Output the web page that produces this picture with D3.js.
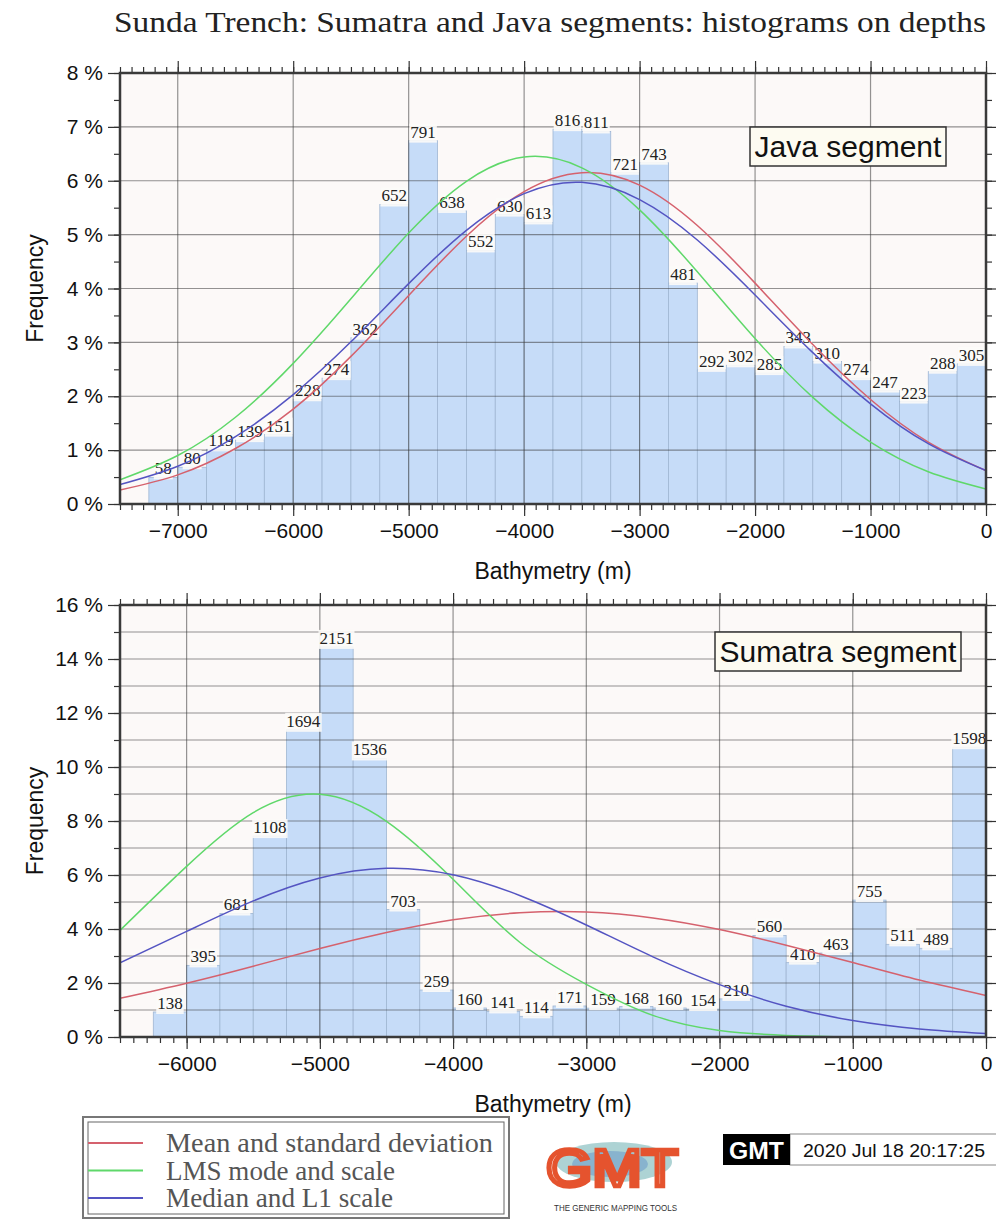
<!DOCTYPE html>
<html>
<head>
<meta charset="utf-8">
<script src="https://cdn.jsdelivr.net/npm/d3@7"></script>
<style>
body { margin: 0; background: #ffffff; }
svg { display: block; }
</style>
</head>
<body>
<div id="chart"></div>
<script>
// histogram bins: lower edge of each 250 m bin, and the counts printed on top of the bars
const binWidth = 250;
const javaBins = [-7250, -7000, -6750, -6500, -6250, -6000, -5750, -5500, -5250, -5000, -4750, -4500, -4250, -4000, -3750,
    -3500, -3250, -3000, -2750, -2500, -2250, -2000, -1750, -1500, -1250, -1000, -750, -500, -250];
const javaCounts = [58, 80, 119, 139, 151, 228, 274, 362, 652, 791, 638, 552, 630, 613, 816,
    811, 721, 743, 481, 292, 302, 285, 343, 310, 274, 247, 223, 288, 305];
const sumatraBins = [-6250, -6000, -5750, -5500, -5250, -5000, -4750, -4500, -4250, -4000, -3750, -3500, -3250,
    -3000, -2750, -2500, -2250, -2000, -1750, -1500, -1250, -1000, -750, -500, -250];
const sumatraCounts = [138, 395, 681, 1108, 1694, 2151, 1536, 703, 259, 160, 141, 114, 171,
    159, 168, 160, 154, 210, 560, 410, 463, 755, 511, 489, 1598];

// fitted curves (frequency in %)
const fitNames = ["Mean and standard deviation", "LMS mode and scale", "Median and L1 scale"];
const javaCurveDepths = [-7500, -7000, -6500, -6000, -5500, -5000, -4500, -4000, -3500, -3000, -2500, -2000, -1500, -1000, -500, 0];
const javaMean = [0.26, 0.54, 1.03, 1.76, 2.74, 3.87, 4.97, 5.80, 6.15, 5.92, 5.17, 4.10, 2.96, 1.94, 1.15, 0.62];
const javaLms = [0.45, 0.90, 1.61, 2.61, 3.81, 5.03, 5.99, 6.44, 6.24, 5.46, 4.31, 3.07, 1.98, 1.15, 0.60, 0.28];
const javaMedian = [0.36, 0.70, 1.25, 2.03, 3.01, 4.09, 5.08, 5.76, 5.97, 5.65, 4.90, 3.88, 2.81, 1.86, 1.12, 0.62];
const sumatraCurveDepths = [-6500, -6000, -5500, -5000, -4500, -4000, -3500, -3000, -2500, -2000, -1500, -1000, -500, 0];
const sumatraMean = [1.43, 1.99, 2.62, 3.28, 3.87, 4.34, 4.60, 4.63, 4.41, 3.98, 3.40, 2.76, 2.11, 1.54];
const sumatraLms = [3.95, 6.32, 8.31, 8.99, 7.99, 5.84, 3.51, 1.95, 0.80, 0.24, 0.06, 0.01, 0.00, 0.00];
const sumatraMedian = [2.75, 3.91, 5.04, 5.89, 6.25, 6.01, 5.24, 4.15, 2.97, 1.94, 1.14, 0.61, 0.30, 0.13];

const javaXTicks = [-7000, -6000, -5000, -4000, -3000, -2000, -1000, 0];
const sumatraXTicks = [-6000, -5000, -4000, -3000, -2000, -1000, 0];

const fitColors = ["#d5616d", "#5fd86a", "#5454c2"];
const sans = "'Liberation Sans', Arial, sans-serif";
const serif = "'Liberation Serif', 'Times New Roman', serif";

const svg = d3.select("#chart").append("svg")
    .attr("width", 996)
    .attr("height", 1220)
    .style("background", "#ffffff");

svg.append("text")
    .attr("x", 114).attr("y", 32)
    .attr("textLength", 872).attr("lengthAdjust", "spacingAndGlyphs")
    .style("font-family", serif).style("font-size", "30px").attr("fill", "#222")
    .text("Sunda Trench: Sumatra and Java segments: histograms on depths");

function drawPanel(p) {
    const left = 120, right = 986;
    const x = d3.scaleLinear().domain([p.xMin, 0]).range([left, right]);
    const y = d3.scaleLinear().domain([0, p.yMax]).range([p.bottom, p.top]);
    const total = d3.sum(p.counts);
    const g = svg.append("g");

    g.append("clipPath").attr("id", "clip" + p.id)
        .append("rect").attr("x", left).attr("y", p.top).attr("width", right - left).attr("height", p.bottom - p.top);

    g.append("rect")
        .attr("x", left).attr("y", p.top).attr("width", right - left).attr("height", p.bottom - p.top)
        .attr("fill", "#fcf9f8");

    // bars
    g.selectAll("rect.bar").data(p.bins).enter().append("rect")
        .classed("bar", true)
        .attr("x", d => x(d))
        .attr("width", d => x(d + binWidth) - x(d))
        .attr("y", (d, i) => y(p.counts[i] / total * 100))
        .attr("height", (d, i) => p.bottom - y(p.counts[i] / total * 100))
        .attr("fill", "#c6dcf8")
        .attr("stroke", "#9fb6d2")
        .attr("stroke-width", 0.8);

    // grid
    const gridX = p.xTicks;
    const gridY = d3.range(1, p.yMax, 1);
    g.selectAll("line.gx").data(gridX).enter().append("line")
        .attr("x1", d => x(d)).attr("x2", d => x(d))
        .attr("y1", p.top).attr("y2", p.bottom)
        .attr("stroke", "rgba(60,60,60,0.55)").attr("stroke-width", 1.2);
    g.selectAll("line.gy").data(gridY).enter().append("line")
        .attr("x1", left).attr("x2", right)
        .attr("y1", d => y(d)).attr("y2", d => y(d))
        .attr("stroke", "rgba(60,60,60,0.55)").attr("stroke-width", 1.2);

    // count labels
    p.bins.forEach((d, i) => {
        const lab = g.append("g");
        const box = lab.append("rect");
        const t = lab.append("text")
            .attr("x", x(d + binWidth / 2))
            .attr("y", y(p.counts[i] / total * 100) - 3)
            .attr("text-anchor", "middle")
            .style("font-family", serif).style("font-size", "17px")
            .attr("fill", "#222")
            .text(p.counts[i]);
        const bb = t.node().getBBox();
        box.attr("x", bb.x - 1).attr("y", bb.y + 1).attr("width", bb.width + 2).attr("height", bb.height)
            .attr("fill", "#fcfbf8").attr("opacity", 0.9);
    });

    // fitted curves
    const line = d3.line().x(d => x(d[0])).y(d => y(d[1])).curve(d3.curveNatural);
    p.curves.forEach((c, k) => {
        g.append("path")
            .datum(p.curveDepths.map((dep, i) => [dep, c[i]]))
            .attr("d", line)
            .attr("clip-path", "url(#clip" + p.id + ")")
            .attr("fill", "none")
            .attr("stroke", fitColors[k])
            .attr("stroke-width", 1.5);
    });

    // axes
    const minorX = d3.range(p.xMin, 1, 100);
    const minorY = d3.range(0, p.yMax + 0.01, p.yMinor);
    const majorY = d3.range(0, p.yMax + 0.01, p.yMajor);

    function styleAxis(sel) {
        sel.select(".domain").remove();
        sel.selectAll("line").attr("stroke", "#333").attr("stroke-width", 1.2);
        sel.selectAll("text").style("font-family", sans).style("font-size", "21px").attr("fill", "#111");
    }

    g.append("g").attr("transform", "translate(0," + p.bottom + ")")
        .call(d3.axisBottom(x).tickValues(minorX).tickSize(6).tickFormat("")).call(styleAxis);
    g.append("g").attr("transform", "translate(0," + p.bottom + ")")
        .call(d3.axisBottom(x).tickValues(p.xTicks).tickSize(12).tickPadding(7).tickFormat(d3.format("d"))).call(styleAxis);
    g.append("g").attr("transform", "translate(0," + p.top + ")")
        .call(d3.axisTop(x).tickValues(minorX).tickSize(6).tickFormat("")).call(styleAxis);
    g.append("g").attr("transform", "translate(0," + p.top + ")")
        .call(d3.axisTop(x).tickValues(p.xTicks).tickSize(12).tickFormat("")).call(styleAxis);

    g.append("g").attr("transform", "translate(" + left + ",0)")
        .call(d3.axisLeft(y).tickValues(minorY).tickSize(6).tickFormat("")).call(styleAxis);
    g.append("g").attr("transform", "translate(" + left + ",0)")
        .call(d3.axisLeft(y).tickValues(majorY).tickSize(12).tickPadding(5).tickFormat(d => d + " %")).call(styleAxis);
    g.append("g").attr("transform", "translate(" + right + ",0)")
        .call(d3.axisRight(y).tickValues(minorY).tickSize(6).tickFormat("")).call(styleAxis);
    g.append("g").attr("transform", "translate(" + right + ",0)")
        .call(d3.axisRight(y).tickValues(majorY).tickSize(12).tickFormat("")).call(styleAxis);

    // frame
    g.append("rect")
        .attr("x", left).attr("y", p.top).attr("width", right - left).attr("height", p.bottom - p.top)
        .attr("fill", "none").attr("stroke", "#3a3a3a").attr("stroke-width", 2.5);

    // axis titles
    g.append("text")
        .attr("x", 553).attr("y", p.bottom + 75)
        .attr("text-anchor", "middle")
        .style("font-family", sans).style("font-size", "23px").attr("fill", "#111")
        .text("Bathymetry (m)");
    g.append("text")
        .attr("transform", "translate(43," + (p.top + p.bottom) / 2 + ") rotate(-90)")
        .attr("text-anchor", "middle")
        .style("font-family", sans).style("font-size", "23px").attr("fill", "#111")
        .text("Frequency");

    // segment name box
    g.append("rect")
        .attr("x", p.boxX).attr("y", p.boxY).attr("width", p.boxW).attr("height", 39)
        .attr("fill", "#fdfbf1").attr("stroke", "#333").attr("stroke-width", 1.5);
    g.append("text")
        .attr("x", p.boxX + p.boxW / 2).attr("y", p.boxY + 30)
        .attr("text-anchor", "middle")
        .style("font-family", sans).style("font-size", "30px").attr("fill", "#111")
        .text(p.name);
}

drawPanel({
    id: "java", name: "Java segment", top: 73, bottom: 504, xMin: -7500, yMax: 8, yMajor: 1, yMinor: 0.5,
    xTicks: javaXTicks, bins: javaBins, counts: javaCounts,
    curveDepths: javaCurveDepths, curves: [javaMean, javaLms, javaMedian],
    boxX: 750, boxY: 127, boxW: 196
});
drawPanel({
    id: "sumatra", name: "Sumatra segment", top: 605, bottom: 1037, xMin: -6500, yMax: 16, yMajor: 2, yMinor: 1,
    xTicks: sumatraXTicks, bins: sumatraBins, counts: sumatraCounts,
    curveDepths: sumatraCurveDepths, curves: [sumatraMean, sumatraLms, sumatraMedian],
    boxX: 715, boxY: 632, boxW: 246
});

// legend
const legend = svg.append("g");
legend.append("rect").attr("x", 83).attr("y", 1117).attr("width", 426).attr("height", 101)
    .attr("fill", "#ffffff").attr("stroke", "#777").attr("stroke-width", 2);
legend.append("rect").attr("x", 88).attr("y", 1122).attr("width", 416).attr("height", 92)
    .attr("fill", "none").attr("stroke", "#666").attr("stroke-width", 1);
const legendWidths = [327, 229, 227];
fitNames.forEach((name, i) => {
    const yy = 1143 + i * 27.5;
    legend.append("line").attr("x1", 88).attr("x2", 143).attr("y1", yy).attr("y2", yy)
        .attr("stroke", fitColors[i]).attr("stroke-width", 1.8);
    legend.append("text").attr("x", 166).attr("y", yy + 9)
        .attr("textLength", legendWidths[i]).attr("lengthAdjust", "spacingAndGlyphs")
        .style("font-family", serif).style("font-size", "27px").attr("fill", "#555")
        .text(name);
});

// GMT logo
const logo = svg.append("g");
logo.append("ellipse").attr("cx", 614).attr("cy", 1162).attr("rx", 58).attr("ry", 20)
    .attr("fill", "#9fcbcc").attr("opacity", 0.85);
logo.append("ellipse").attr("cx", 610).attr("cy", 1164).attr("rx", 38).attr("ry", 13)
    .attr("fill", "#6f9fc9").attr("opacity", 0.6);
logo.append("text").attr("x", 546).attr("y", 1186)
    .attr("textLength", 132).attr("lengthAdjust", "spacingAndGlyphs")
    .style("font-family", sans).style("font-size", "52px")
    .attr("fill", "none").attr("stroke", "#e5532e").attr("stroke-width", 4.5)
    .text("GMT");
logo.append("text").attr("x", 554).attr("y", 1211)
    .attr("textLength", 123).attr("lengthAdjust", "spacingAndGlyphs")
    .style("font-family", sans).style("font-size", "9px").attr("fill", "#333")
    .text("THE GENERIC MAPPING TOOLS");

// time stamp
const stamp = svg.append("g");
stamp.append("rect").attr("x", 790).attr("y", 1134).attr("width", 210).attr("height", 31)
    .attr("fill", "#ffffff").attr("stroke", "#888").attr("stroke-width", 1);
stamp.append("rect").attr("x", 723).attr("y", 1134).attr("width", 67).attr("height", 31)
    .attr("fill", "#000000");
stamp.append("text").attr("x", 729).attr("y", 1159)
    .attr("textLength", 55).attr("lengthAdjust", "spacingAndGlyphs")
    .style("font-family", sans).style("font-size", "23px").style("font-weight", "bold")
    .attr("fill", "#ffffff").text("GMT");
stamp.append("text").attr("x", 803).attr("y", 1157)
    .attr("textLength", 182).attr("lengthAdjust", "spacingAndGlyphs")
    .style("font-family", sans).style("font-size", "19px").attr("fill", "#111")
    .text("2020 Jul 18 20:17:25");
</script>
</body>
</html>
